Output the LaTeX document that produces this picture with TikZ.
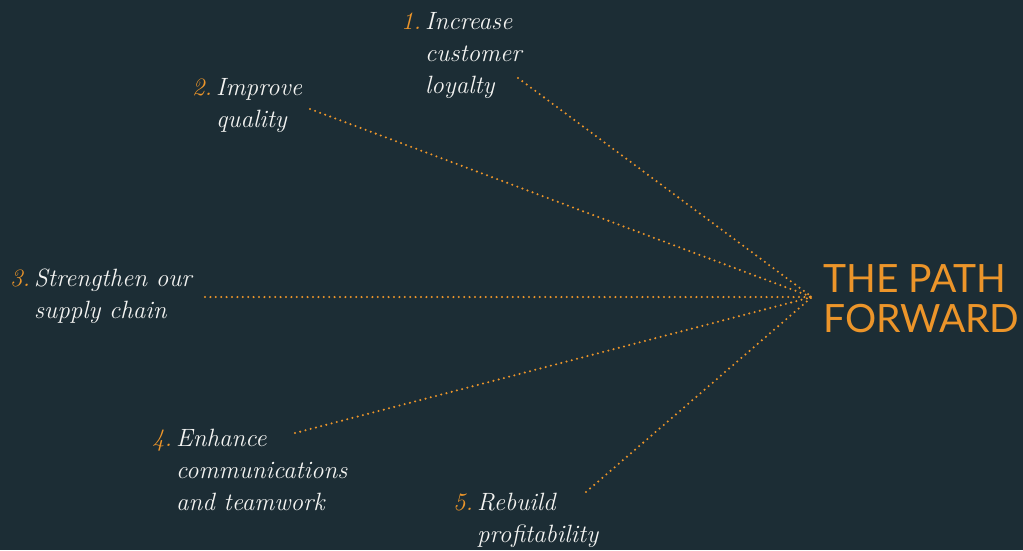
\documentclass[tikz,border=0pt]{standalone}
\usepackage{fontspec}
\newfontfamily\headfont{Lato}
\definecolor{bgteal}{HTML}{1C2D35}
\definecolor{pathorange}{HTML}{EC952A}
\definecolor{itemwhite}{HTML}{F4F4F2}
% numbered goal: orange number in a fixed-width box, continuation lines indented
\newcommand{\goalnum}[1]{\makebox[24pt][l]{\color{pathorange}#1}}
\newcommand{\goalind}{\hspace*{24pt}}
\begin{document}
\begin{tikzpicture}[x=1pt,y=-1pt,
  goal/.style={anchor=north west, inner sep=0pt, text=itemwhite, align=left,
    font=\fontsize{25}{32}\selectfont\itshape},
  headline/.style={anchor=base west, inner sep=0pt, text=pathorange, align=left,
    font=\headfont\fontsize{39}{40}\selectfont},
  dotline/.style={draw=pathorange, line width=2.3pt, line cap=round,
    dash pattern=on 0pt off 5.4pt}]
  \fill[bgteal] (0,0) rectangle (1023,550);
  \useasboundingbox (0,0) rectangle (1023,550);

  % headline (base anchor sits on the last line) and the meeting point
  \node[headline] (head) at (823,332) {THE PATH\\FORWARD};
  \coordinate (meet) at (812,297);

  % the five goals (placed by the top of their first line)
  \node[goal] (g1) at (401,12) {\goalnum{1.}Increase\\\goalind customer\\\goalind loyalty};
  \node[goal] (g2) at (192,78) {\goalnum{2.}Improve\\\goalind quality};
  \node[goal] (g3) at (10,269) {\goalnum{3.}Strengthen our\\\goalind supply chain};
  \node[goal] (g4) at (152,429) {\goalnum{4.}Enhance\\\goalind communications\\\goalind and teamwork};
  \node[goal] (g5) at (453,493) {\goalnum{5.}Rebuild\\\goalind profitability};

  % dotted line ends beside each goal
  \coordinate (e1) at (518,78);
  \coordinate (e2) at (310,109);
  \coordinate (e3) at (205,297);
  \coordinate (e4) at (295,433);
  \coordinate (e5) at (586,492);

  \foreach \i in {1,...,5} {\draw[dotline] (e\i) -- (meet);}
\end{tikzpicture}
\end{document}
